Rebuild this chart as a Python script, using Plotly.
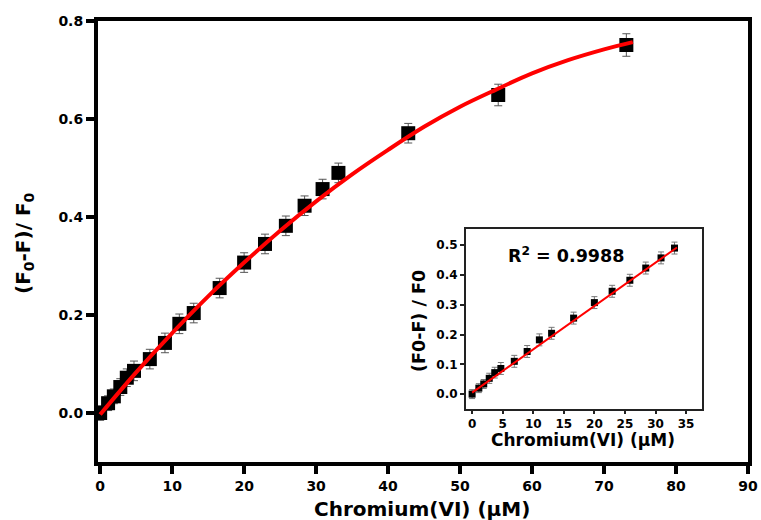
import plotly.graph_objects as go

# ---- data ----
conc = [0, 1.1, 1.9, 2.8, 3.7, 4.7, 6.9, 9, 11, 13, 16.6, 20, 22.9, 25.8, 28.4, 30.9, 33.1, 42.8, 55.3, 73.1]
resp = [0.0, 0.02, 0.034, 0.053, 0.072, 0.086, 0.11, 0.143, 0.182, 0.204, 0.255, 0.307, 0.345, 0.382, 0.423, 0.457, 0.49, 0.571, 0.649, 0.751]
err = [0.015, 0.015, 0.015, 0.017, 0.018, 0.02, 0.02, 0.02, 0.02, 0.02, 0.02, 0.02, 0.02, 0.02, 0.02, 0.02, 0.02, 0.02, 0.022, 0.023]

fit_x = [0, 5, 10, 15, 20, 25, 30, 35, 40, 45, 50, 55, 60, 65, 70, 74]
fit_y = [-0.003, 0.083, 0.163, 0.238, 0.307, 0.372, 0.432, 0.487, 0.537, 0.584, 0.625, 0.66, 0.693, 0.72, 0.742, 0.757]

inset_x = conc[:17]
inset_y = resp[:17]
inset_err = err[:17]
lin_x = [0, 33.5]
lin_y = [0.005, 0.492]

main_xticks = [0, 10, 20, 30, 40, 50, 60, 70, 80, 90]
main_yticks = [0.0, 0.2, 0.4, 0.6, 0.8]
inset_xticks = [0, 5, 10, 15, 20, 25, 30, 35]
inset_yticks = [0.0, 0.1, 0.2, 0.3, 0.4, 0.5]

FONT = "DejaVu Sans, Liberation Sans, Arial, sans-serif"
W, H = 761, 520

fig = go.Figure()

# main data
fig.add_trace(go.Scatter(
    x=conc, y=resp, mode="markers",
    marker=dict(symbol="square", size=14, color="black"),
    error_y=dict(type="data", array=err, color="#555555", thickness=1, width=4),
    xaxis="x", yaxis="y", showlegend=False))
fig.add_trace(go.Scatter(
    x=fit_x, y=fit_y, mode="lines", line=dict(color="#ff0000", width=4, shape="spline"),
    xaxis="x", yaxis="y", showlegend=False))

# inset data
fig.add_trace(go.Scatter(
    x=inset_x, y=inset_y, mode="markers",
    marker=dict(symbol="square", size=7, color="black"),
    error_y=dict(type="data", array=inset_err, color="#777777", thickness=1, width=3),
    xaxis="x2", yaxis="y2", showlegend=False))
fig.add_trace(go.Scatter(
    x=lin_x, y=lin_y, mode="lines", line=dict(color="#ff0000", width=2),
    xaxis="x2", yaxis="y2", showlegend=False))

def px_x(p):
    return p / W

def px_y(p):
    return 1 - p / H

bold = lambda s: dict(size=s, family=FONT, weight="bold", color="black")

def label(text, x, y, size, angle=0):
    return dict(text=text, xref="paper", yref="paper", x=px_x(x), y=px_y(y),
                xanchor="center", yanchor="middle", showarrow=False,
                textangle=angle, font=bold(size))

fig.update_layout(
    width=W, height=H,
    margin=dict(l=0, r=0, t=0, b=0, autoexpand=False),
    paper_bgcolor="white", plot_bgcolor="white",
    font=dict(family=FONT, color="black"),
    xaxis=dict(
        domain=[px_x(98), px_x(748)], range=[-0.3, 90], automargin=False,
        tickvals=main_xticks, ticktext=[str(v) for v in main_xticks],
        showgrid=False, zeroline=False,
        showline=True, linewidth=4, linecolor="black", mirror=True,
        ticks="outside", ticklen=8, tickwidth=4, tickcolor="black",
        tickfont=bold(14),
        anchor="y"),
    yaxis=dict(
        domain=[px_y(462), px_y(21)], range=[-0.1, 0.8], automargin=False,
        tickvals=main_yticks, ticktext=["%.1f" % v for v in main_yticks],
        showgrid=False, zeroline=False,
        showline=True, linewidth=4, linecolor="black", mirror=True,
        ticks="outside", ticklen=8, tickwidth=4, tickcolor="black",
        tickfont=bold(14),
        anchor="x"),
    xaxis2=dict(
        domain=[px_x(466), px_x(702)], range=[-1.0, 37.6], automargin=False,
        tickvals=inset_xticks, ticktext=[str(v) for v in inset_xticks],
        showgrid=False, zeroline=False,
        showline=True, linewidth=2, linecolor="#222222", mirror=True,
        ticks="outside", ticklen=3, tickwidth=1.5, tickcolor="#222222",
        tickfont=bold(12),
        anchor="y2"),
    yaxis2=dict(
        domain=[px_y(409), px_y(229)], range=[-0.05, 0.554], automargin=False,
        tickvals=inset_yticks, ticktext=["%.1f" % v for v in inset_yticks],
        showgrid=False, zeroline=False,
        showline=True, linewidth=2, linecolor="#222222", mirror=True,
        ticks="outside", ticklen=4, tickwidth=1.5, tickcolor="#222222",
        tickfont=bold(12),
        anchor="x2"),
    shapes=[dict(type="rect", xref="paper", yref="paper",
                 x0=px_x(466), x1=px_x(702), y0=px_y(409), y1=px_y(229),
                 fillcolor="white", line=dict(width=0), layer="below")],
    annotations=[
        label("Chromium(VI) (µM)", 422, 509, 20),
        label("(F<sub>0</sub>-F)/ F<sub>0</sub>", 24, 243, 20, -90),
        label("Chromium(VI) (µM)", 583, 440, 17),
        label("(F0-F) / F0", 419, 321, 17.5, -90),
        label("R<sup>2</sup> = 0.9988", 566, 255, 17.5),
    ],
)

fig.write_html("out.html")
